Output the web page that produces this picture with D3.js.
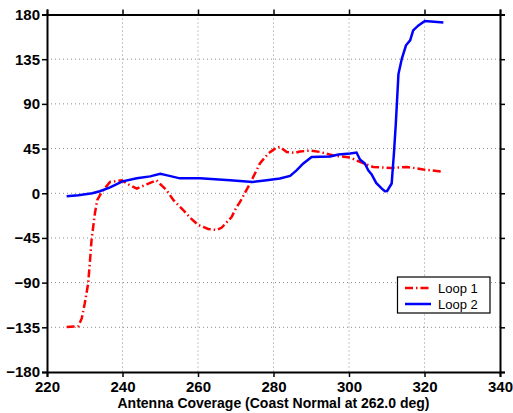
<!DOCTYPE html>
<html><head><meta charset="utf-8">
<script src="https://cdn.jsdelivr.net/npm/d3@7"></script>
<style>body{margin:0;background:#fff}svg{display:block}text{font-family:"Liberation Sans",Arial,Helvetica,sans-serif}</style>
</head><body><svg id="c" width="513" height="413"></svg>
<script>
const xTicks = [220, 240, 260, 280, 300, 320, 340];
const yTicks = [-180, -135, -90, -45, 0, 45, 90, 135, 180];
const xLabel = "Antenna Coverage (Coast Normal at 262.0 deg)";
const seriesNames = ["Loop 1", "Loop 2"];
const loop1X = [225.2, 228.3, 229.2, 230, 230.9, 231.4, 231.8, 232.7, 233.3, 234.5, 236.7, 239.8, 242, 243.8, 246.4, 249, 251.7, 253.5, 256.1, 258, 260.1, 262.7, 265, 266.3, 268.9, 270.2, 271.1, 273.8, 276.4, 278.6, 280.8, 281.7, 283.5, 285.7, 287, 289.7, 292.3, 295.8, 300.3, 302.9, 306.4, 310.9, 315.3, 319.7, 325];
const loop1Y = [-134.6, -134, -126, -111, -91, -67.5, -47, -20, -7, 1.3, 11.4, 13, 8, 4.7, 9, 13, 3, -7, -17, -25, -32, -36, -37, -34.5, -24, -14, -9, 10, 30, 40, 46, 46.6, 41.6, 40.6, 42, 43, 41.6, 38, 36, 31.5, 26.5, 25.5, 26.5, 24, 21.5];
const loop2X = [225.2, 228.3, 232, 234, 236.7, 240, 243.8, 247.3, 250, 251.3, 255.2, 260.5, 268.5, 274.5, 278.2, 281.7, 284.4, 286.1, 287.9, 290.1, 295, 297.2, 300.3, 302, 302.9, 304.2, 305.1, 306, 307.2, 308.7, 309.5, 310.1, 311.3, 311.9, 312.4, 313.1, 314, 315.1, 316.2, 317, 318.4, 320.1, 325];
const loop2Y = [-3, -2, 0, 2, 6, 12, 15, 17, 19.5, 18.5, 15, 15, 13, 11.4, 13, 14.8, 17.5, 23, 30, 36.5, 37, 39, 40, 41, 34, 30, 23, 19, 10.4, 4.7, 2, 2.3, 9.8, 40, 70, 120, 135.6, 149, 154, 164, 169, 173.5, 172];

const svg = d3.select("#c");
const L = 47, R = 500, T = 14.5, B = 372;
const x = d3.scaleLinear().domain([220, 340]).range([L, R]);
const y = d3.scaleLinear().domain([-180, 180]).range([B, T]);

// grid
const g = svg.append("g");
g.selectAll(".gx").data(xTicks.slice(1, -1)).join("line")
  .attr("x1", d => x(d)).attr("x2", d => x(d)).attr("y1", T).attr("y2", B)
  .attr("stroke", "#8c8c8c").attr("stroke-width", 1).attr("stroke-dasharray", "1,3");
g.selectAll(".gy").data(yTicks.slice(1, -1)).join("line")
  .attr("y1", d => y(d)).attr("y2", d => y(d)).attr("x1", L).attr("x2", R)
  .attr("stroke", "#8c8c8c").attr("stroke-width", 1).attr("stroke-dasharray", "1,3");

const fmt = d => d < 0 ? "\u2212" + Math.abs(d) : String(d);

// axes
const axB = svg.append("g").attr("transform", `translate(0,${B})`)
  .call(d3.axisBottom(x).tickValues(xTicks).tickSize(5).tickPadding(4).tickFormat(fmt));
const axL = svg.append("g").attr("transform", `translate(${L},0)`)
  .call(d3.axisLeft(y).tickValues(yTicks).tickSize(5).tickPadding(2).tickFormat(fmt));
const axT = svg.append("g").attr("transform", `translate(0,${T})`)
  .call(d3.axisTop(x).tickValues(xTicks).tickSize(5).tickFormat(""));
const axR = svg.append("g").attr("transform", `translate(${R},0)`)
  .call(d3.axisRight(y).tickValues(yTicks).tickSize(5).tickFormat(""));
[axB, axL, axT, axR].forEach(a => {
  a.select(".domain").attr("stroke", "#000").attr("stroke-width", 2);
  a.selectAll(".tick line").attr("stroke", "#000").attr("stroke-width", 1.5);
  a.selectAll("text").attr("font-family", "Liberation Sans, Arial, sans-serif")
    .attr("font-size", 15).attr("font-weight", "bold").attr("fill", "#000");
});

// lines
const line = d3.line().x(d => x(d[0])).y(d => y(d[1]));
const d1 = loop1X.map((v, i) => [v, loop1Y[i]]);
const d2 = loop2X.map((v, i) => [v, loop2Y[i]]);
svg.append("path").datum(d1).attr("d", line).attr("fill", "none")
  .attr("stroke", "#ff0000").attr("stroke-width", 2.5).attr("stroke-dasharray", "8,3,1.5,3");
svg.append("path").datum(d2).attr("d", line).attr("fill", "none")
  .attr("stroke", "#0000ff").attr("stroke-width", 2.5);

// x label
svg.append("text").attr("x", (L + R) / 2).attr("y", 408).attr("text-anchor", "middle")
  .attr("font-size", 14).attr("font-weight", "bold").text(xLabel);

// legend
const lg = svg.append("g");
lg.append("rect").attr("x", 397.5).attr("y", 277).attr("width", 92.5).attr("height", 36)
  .attr("fill", "#fff").attr("stroke", "#000").attr("stroke-width", 1.2);
const lstyles = [{c: "#ff0000", da: "8,3,1.5,3"}, {c: "#0000ff", da: null}];
seriesNames.forEach((n, i) => {
  const yy = 288 + i * 16;
  lg.append("line").attr("x1", 405).attr("x2", 431).attr("y1", yy).attr("y2", yy)
    .attr("stroke", lstyles[i].c).attr("stroke-width", 2.5).attr("stroke-dasharray", lstyles[i].da);
  lg.append("text").attr("x", 438).attr("y", yy + 5).attr("font-size", 13).text(n);
});
</script></body></html>
